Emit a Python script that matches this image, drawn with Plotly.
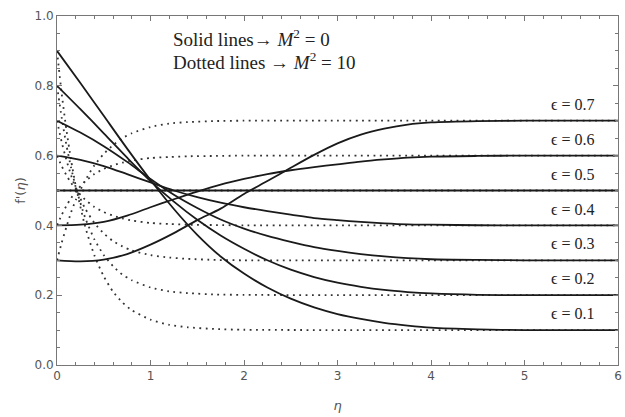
import plotly.graph_objects as go

eps_values = [0.1, 0.2, 0.3, 0.4, 0.5, 0.6, 0.7]

# Solid lines (M^2 = 0)
eta_solid = [0, 0.25, 0.5, 0.75, 1.0, 1.25, 1.5, 1.75, 2.0, 2.25, 2.5, 2.75,
             3.0, 3.25, 3.5, 3.75, 4.0, 4.5, 5.0, 5.5, 6.0]
solid_01 = [0.9, 0.808, 0.714, 0.62, 0.53, 0.447, 0.373, 0.311, 0.262, 0.222, 0.19, 0.165,
            0.146, 0.132, 0.121, 0.113, 0.107, 0.102, 0.1, 0.1, 0.1]
solid_02 = [0.8, 0.733, 0.664, 0.594, 0.527, 0.468, 0.416, 0.371, 0.333, 0.3, 0.273, 0.252,
            0.236, 0.224, 0.215, 0.209, 0.205, 0.201, 0.2, 0.2, 0.2]
solid_03 = [0.7, 0.666, 0.627, 0.582, 0.533, 0.488, 0.45, 0.417, 0.391, 0.37, 0.353, 0.338,
            0.327, 0.318, 0.311, 0.306, 0.303, 0.301, 0.3, 0.3, 0.3]
solid_04 = [0.6, 0.588, 0.57, 0.547, 0.523, 0.5, 0.481, 0.465, 0.452, 0.441, 0.431, 0.421,
            0.415, 0.41, 0.406, 0.403, 0.402, 0.4005, 0.4, 0.4, 0.4]
solid_05 = [0.5] * 21
solid_06 = [0.4, 0.402, 0.41, 0.428, 0.452, 0.475, 0.497, 0.517, 0.533, 0.547, 0.558, 0.567,
            0.575, 0.583, 0.589, 0.594, 0.597, 0.599, 0.6, 0.6, 0.6]
solid_07 = [0.3, 0.297, 0.302, 0.318, 0.345, 0.378, 0.415, 0.448, 0.49, 0.527, 0.565, 0.602,
            0.635, 0.66, 0.677, 0.689, 0.695, 0.699, 0.7, 0.7, 0.7]

# Dotted lines (M^2 = 10)
eta_dot = [0, 0.05, 0.1, 0.15, 0.2, 0.3, 0.4, 0.5, 0.6, 0.7, 0.8, 1.0, 1.2, 1.4, 1.7,
           2.0, 3.0, 4.0, 5.0, 6.0]
dot_01 = [0.9, 0.778, 0.675, 0.588, 0.514, 0.398, 0.314, 0.254, 0.21, 0.179, 0.157, 0.13,
          0.115, 0.108, 0.103, 0.101, 0.1, 0.1, 0.1, 0.1]
dot_02 = [0.8, 0.709, 0.631, 0.566, 0.51, 0.423, 0.36, 0.315, 0.283, 0.259, 0.243, 0.222,
          0.211, 0.206, 0.202, 0.201, 0.2, 0.2, 0.2, 0.2]
dot_03 = [0.7, 0.639, 0.588, 0.544, 0.507, 0.449, 0.407, 0.377, 0.355, 0.34, 0.328, 0.315,
          0.308, 0.304, 0.301, 0.3, 0.3, 0.3, 0.3, 0.3]
dot_04 = [0.6, 0.57, 0.544, 0.522, 0.503, 0.474, 0.453, 0.438, 0.428, 0.42, 0.414, 0.407,
          0.404, 0.402, 0.401, 0.4, 0.4, 0.4, 0.4, 0.4]
dot_05 = [0.5] * 20
dot_06 = [0.4, 0.43, 0.456, 0.478, 0.497, 0.526, 0.547, 0.562, 0.572, 0.58, 0.586, 0.593,
          0.596, 0.598, 0.599, 0.6, 0.6, 0.6, 0.6, 0.6]
dot_07 = [0.3, 0.35, 0.395, 0.437, 0.472, 0.528, 0.572, 0.605, 0.63, 0.65, 0.664, 0.682,
          0.692, 0.696, 0.699, 0.7, 0.7, 0.7, 0.7, 0.7]

solid_series = [solid_01, solid_02, solid_03, solid_04, solid_05, solid_06, solid_07]
dot_series = [dot_01, dot_02, dot_03, dot_04, dot_05, dot_06, dot_07]

label_texts = ["ϵ = 0.1", "ϵ = 0.2", "ϵ = 0.3", "ϵ = 0.4", "ϵ = 0.5", "ϵ = 0.6", "ϵ = 0.7"]
x_tick_vals = [0, 1, 2, 3, 4, 5, 6]
x_tick_text = ["0", "1", "2", "3", "4", "5", "6"]
y_tick_vals = [0, 0.2, 0.4, 0.6, 0.8, 1.0]
y_tick_text = ["0.0", "0.2", "0.4", "0.6", "0.8", "1.0"]

fig = go.Figure()

for ys in dot_series:
    fig.add_trace(go.Scatter(x=eta_dot, y=ys, mode="lines",
                             line=dict(color="#333333", width=1.8, dash="1.8px,4.5px",
                                       shape="spline", smoothing=0.6),
                             showlegend=False, hoverinfo="skip"))

for ys in solid_series:
    fig.add_trace(go.Scatter(x=eta_solid, y=ys, mode="lines",
                             line=dict(color="#1a1a1a", width=1.8, shape="spline", smoothing=0.8),
                             showlegend=False, hoverinfo="skip"))

serif = "Liberation Serif, Times New Roman, DejaVu Serif, serif"
for eps, txt in zip(eps_values, label_texts):
    fig.add_annotation(x=5.77, y=eps + 0.047, xref="x", yref="y", text=txt,
                       showarrow=False, xanchor="right", yanchor="middle",
                       font=dict(family=serif, size=16, color="#222222"))

fig.add_annotation(x=1.22, y=0.938, xref="x", yref="y",
                   text="Solid lines\u2192 <i>M</i><sup>2</sup> = 0",
                   showarrow=False, xanchor="left", yanchor="middle",
                   font=dict(family=serif, size=19, color="#222222"))
fig.add_annotation(x=1.22, y=0.870, xref="x", yref="y",
                   text="Dotted lines \u2192 <i>M</i><sup>2</sup> = 10",
                   showarrow=False, xanchor="left", yanchor="middle",
                   font=dict(family=serif, size=19, color="#222222"))

axis_font = dict(family="DejaVu Sans, Verdana, sans-serif", size=12, color="#555555")

fig.update_xaxes(range=[0, 6], showgrid=False, zeroline=False,
                 showline=True, linecolor="#777777", linewidth=1, mirror="allticks",
                 ticks="inside", ticklen=5, tickcolor="#777777", tickwidth=1,
                 tickvals=x_tick_vals, ticktext=x_tick_text,
                 tickfont=axis_font, ticklabeloverflow="allow",
                 minor=dict(dtick=0.2, ticks="inside", ticklen=3, tickcolor="#777777", showgrid=False),
                 title=dict(text="<i>η</i>", font=dict(family="DejaVu Sans, sans-serif", size=13, color="#555555"),
                            standoff=18))
fig.update_yaxes(range=[0, 1.0], showgrid=False, zeroline=False,
                 showline=True, linecolor="#777777", linewidth=1, mirror="allticks",
                 ticks="inside", ticklen=5, tickcolor="#777777", tickwidth=1,
                 tickvals=y_tick_vals, ticktext=y_tick_text,
                 tickfont=axis_font, ticklabeloverflow="allow",
                 minor=dict(dtick=0.05, ticks="inside", ticklen=3, tickcolor="#777777", showgrid=False),
                 title=dict(text="f'(<i>η</i>)", font=dict(family="DejaVu Sans, sans-serif", size=13, color="#555555"),
                            standoff=5))

fig.update_layout(width=625, height=417, margin=dict(l=57, r=3, t=16, b=52),
                  plot_bgcolor="white", paper_bgcolor="white")

fig.write_html("out.html")
